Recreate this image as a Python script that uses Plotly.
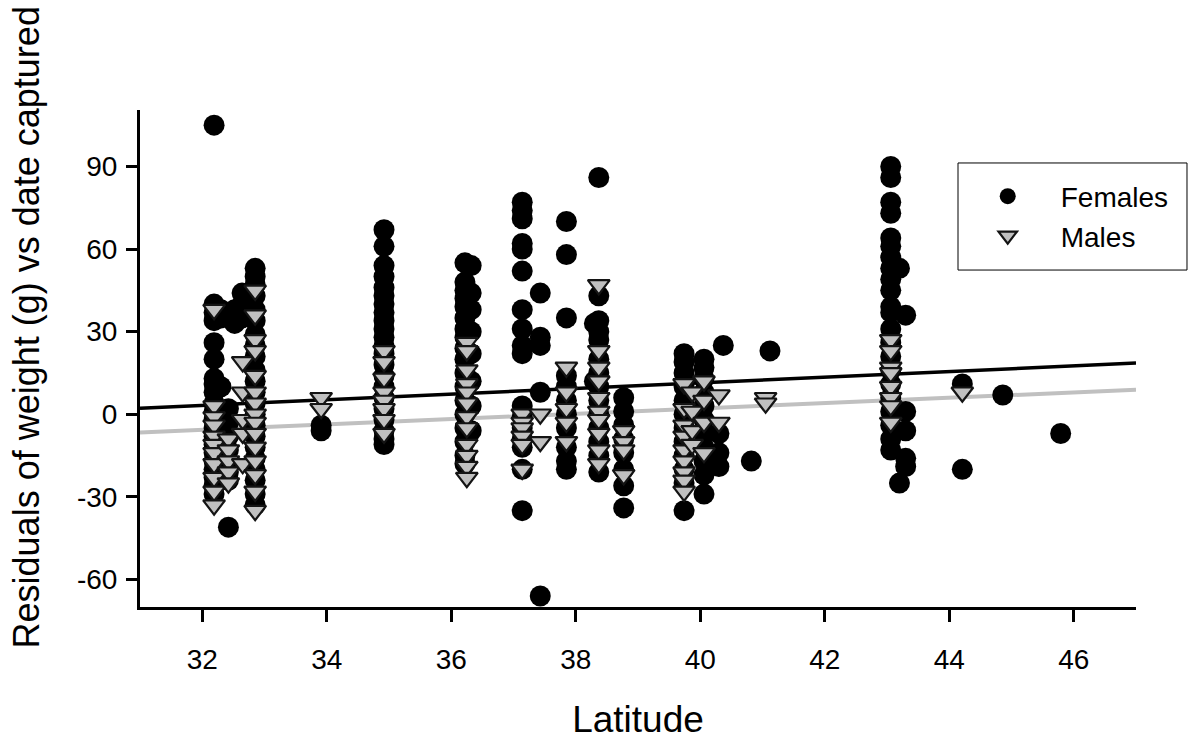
import plotly.graph_objects as go

# ---------------- data ----------------
female_sites = [32.19, 32.3, 32.42, 32.52, 32.64, 32.85, 33.91, 34.92, 36.22, 36.32,
                37.14, 37.43, 37.85, 38.3, 38.37, 38.77, 39.74, 40.06, 40.3, 40.37,
                40.82, 41.12, 43.06, 43.2, 43.3, 44.21, 44.86, 45.79]
female_resid = [
    [105, 40, 37, 34, 26, 20, 13, 11, 8, 4, 1, -2, -5, -8, -11, -14, -17, -20, -23, -26, -29],
    [38, 35, 10],
    [2, -3, -8, -13, -17, -21, -24, -41],
    [38, 33],
    [44, 40, 35],
    [53, 50, 47, 43, 38, 34, 29, 25, 21, 16, 12, 8, 4, 0, -4, -8, -12, -16, -20, -24, -29, -33],
    [-4, -6],
    [67, 61, 54, 50, 46, 43, 40, 37, 34, 31, 28, 25, 22, 18, 14, 10, 6, 2, -2, -6, -9, -11],
    [55, 48, 45, 42, 39, 35, 31, 28, 24, 20, 15, 10, 5, 0, -5, -10, -15, -18],
    [54, 44, 38, 30, 22, 12, 3, -6],
    [77, 74, 71, 62, 60, 52, 38, 31, 25, 22, 3, -1, -5, -9, -12, -20, -35],
    [44, 28, 25, 8, -66],
    [70, 58, 35, 14, 10, 5, 0, -5, -12, -17, -20],
    [33, 12],
    [86, 43, 34, 30, 27, 20, 15, 10, 5, 0, -5, -10, -15, -21],
    [6, 1, -4, -9, -14, -20, -26, -34],
    [22, 19, 15, 10, 5, 0, -5, -10, -15, -20, -25, -35],
    [20, 17, 13, 8, 3, -2, -7, -12, -17, -22, -29],
    [-7, -14, -19],
    [25],
    [-17],
    [23],
    [90, 86, 77, 73, 64, 61, 57, 53, 49, 45, 39, 37, 31, 26, 21, 16, 11, 6, 1, -4, -9, -13],
    [53, -25],
    [36, 1, -6, -16, -19],
    [11, -20],
    [7],
    [-7],
]

male_sites = [32.19, 32.42, 32.65, 32.85, 33.91, 34.92, 36.25, 37.14, 37.43, 37.85,
              38.37, 38.77, 39.74, 39.87, 40.06, 40.3, 41.05, 43.06, 44.21]
male_resid = [
    [38, 3, -1, -4, -8, -11, -14, -18, -23, -28, -33],
    [-9, -13, -17, -21, -25],
    [19, 8, -2, -7, -18],
    [45, 36, 27, 23, 14, 8, 4, 0, -3, -7, -12, -17, -22, -28, -35],
    [6, 2],
    [23, 19, 13, 8, 5, 2, -2, -7],
    [26, 23, 16, 11, 8, 4, -1, -5, -11, -15, -19, -23],
    [0, -3, -5, -8, -11, -20],
    [0, -10],
    [17, 8, 2, -3, -10],
    [47, 23, 17, 12, 6, 1, -2, -7, -13, -18],
    [-6, -10, -13, -22],
    [11, 2, -4, -8, -13, -17, -21, -24, -28],
    [8, 1, -6, -11],
    [12, 5, -3, -14],
    [7, -3],
    [6, 4],
    [27, 23, 17, 15, 10, 6, 3, -3],
    [8],
]

# regression fits (intercept, slope)
female_fit = (-29.58, 1.025)
male_fit = (-36.64, 0.969)

x_range = [31, 47]
y_range = [-70, 110.5]
x_tick_vals = [32, 34, 36, 38, 40, 42, 44, 46]
y_tick_vals = [-60, -30, 0, 30, 60, 90]
y_tick_text = ["-60", "-30", "0", "30", "60", "90"]

# ---------------- build ----------------
def flatten(sites, groups):
    xs, ys = [], []
    for s, g in zip(sites, groups):
        xs += [s] * len(g)
        ys += g
    return xs, ys

fx, fy = flatten(female_sites, female_resid)
mx, my = flatten(male_sites, male_resid)

FONT = "Liberation Sans, Arial, sans-serif"

fig = go.Figure()
fig.add_trace(go.Scatter(x=x_range, y=[female_fit[0] + female_fit[1] * v for v in x_range],
                         mode="lines", line=dict(color="black", width=3.5),
                         showlegend=False, hoverinfo="skip"))
fig.add_trace(go.Scatter(x=x_range, y=[male_fit[0] + male_fit[1] * v for v in x_range],
                         mode="lines", line=dict(color="#C0C0C0", width=4),
                         showlegend=False, hoverinfo="skip"))
fig.add_trace(go.Scatter(x=fx, y=fy, mode="markers", name="Females",
                         marker=dict(symbol="circle", size=21, color="black",
                                     line=dict(width=0))))
fig.add_trace(go.Scatter(x=mx, y=my, mode="markers", name="Males",
                         marker=dict(symbol="triangle-down", size=19, color="#C0C0C0",
                                     line=dict(color="#141414", width=2.2))))

# legend frame
fig.add_shape(type="rect", xref="paper", yref="paper",
              x0=0.8213, x1=1.0512, y0=0.678, y1=0.8934,
              line=dict(color="black", width=1), fillcolor="rgba(0,0,0,0)")

# y-axis title as annotation (sits above the axis centre in the reference)
fig.add_annotation(text="Residuals of weight (g) vs date captured",
                   xref="paper", yref="paper", x=-0.113, y=0.5634,
                   xanchor="center", yanchor="middle", textangle=-90,
                   showarrow=False, font=dict(size=36, family=FONT, color="black"))

fig.update_layout(
    width=1191, height=740,
    margin=dict(l=140, r=55, t=110, b=133, autoexpand=False),
    paper_bgcolor="white", plot_bgcolor="white",
    font=dict(family=FONT, color="black", size=28),
    legend=dict(x=0.818, y=0.7867, xanchor="left", yanchor="middle",
                borderwidth=0, bgcolor="rgba(0,0,0,0)",
                font=dict(size=28), itemwidth=96, tracegroupgap=0),
    xaxis=dict(range=x_range, tickvals=x_tick_vals, showgrid=False, zeroline=False,
               showline=True, linecolor="black", linewidth=3, automargin=False,
               ticks="outside", ticklen=12, tickwidth=3, tickcolor="black",
               tickfont=dict(size=28), ticklabelstandoff=13,
               title=dict(text="Latitude", font=dict(size=37), standoff=35)),
    yaxis=dict(range=y_range, tickvals=y_tick_vals, ticktext=y_tick_text,
               showgrid=False, zeroline=False, automargin=False,
               showline=True, linecolor="black", linewidth=3,
               ticks="outside", ticklen=11, tickwidth=3, tickcolor="black",
               tickfont=dict(size=28), ticklabelstandoff=3),
)

fig.write_html("out.html", config={"displayModeBar": False},
               post_script="document.body.style.margin='0';")
